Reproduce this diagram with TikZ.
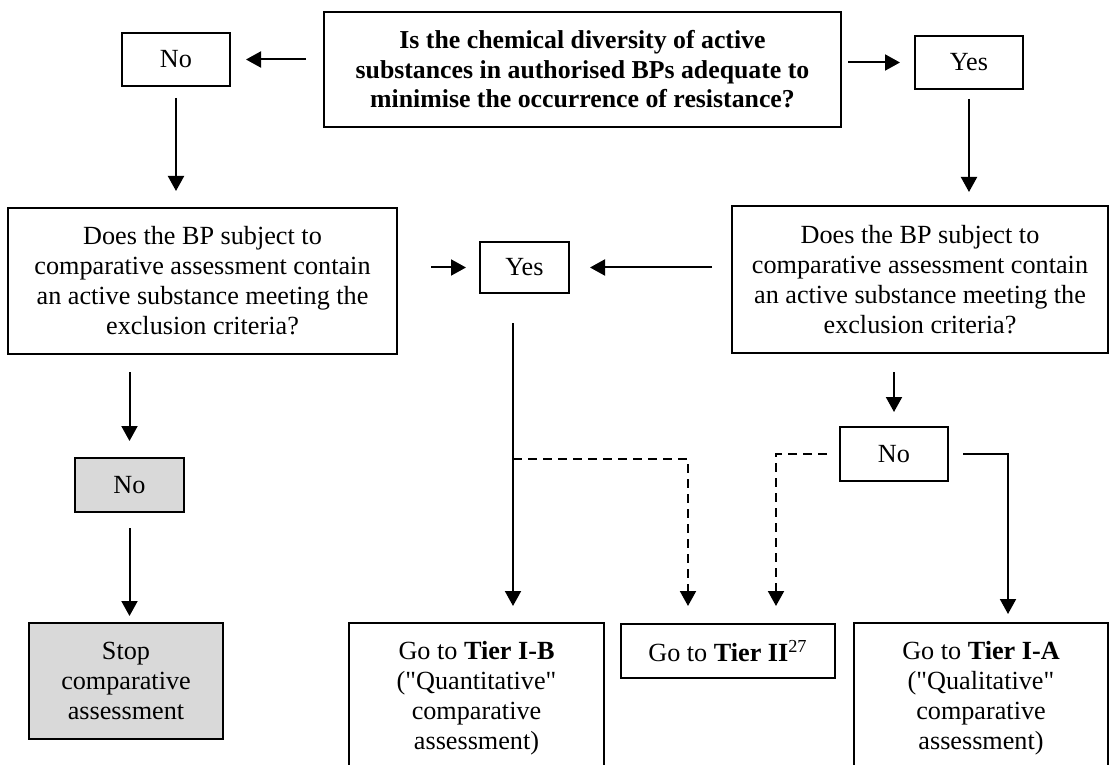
\documentclass[tikz,border=0pt]{standalone}
\usepackage{fontspec}
\setmainfont{Liberation Serif}[Ligatures=TeXOff]
\usetikzlibrary{arrows.meta}
\definecolor{stopgray}{HTML}{D9D9D9}

\begin{document}
\begin{tikzpicture}[x=0.5pt, y=-0.5pt, line width=1pt,
    every node/.style={font=\fontsize{13.1}{15}\selectfont},
    box/.style={draw, align=center, inner sep=0pt},
    greybox/.style={box, fill=stopgray},
    arr/.style={-{Triangle[length=7.5pt, width=8pt]}},
    dasharr/.style={arr, dash pattern=on 4.5pt off 3pt}]

    \clip (0,0) rectangle (1110,765);

    % Draw the top question and its two answers
    \node[box, minimum width=258.5pt, minimum height=57.5pt, font=\fontsize{12.9}{14.8}\selectfont\bfseries]
        (q1) at (582.5,69.5) {Is the chemical diversity of active\\substances in authorised BPs adequate to\\minimise the occurrence of resistance?};
    \node[box, minimum width=54pt, minimum height=26.5pt] (no1) at (176,59.5) {No};
    \node[box, minimum width=54pt, minimum height=26.5pt] (yes1) at (969,62.5) {Yes};

    % Draw the two exclusion questions
    \node[box, minimum width=194.5pt, minimum height=73pt] (q2) at (202.5,281)
        {Does the BP subject to\\comparative assessment contain\\an active substance meeting the\\exclusion criteria?};
    \node[box, minimum width=188pt, minimum height=73.5pt] (q3) at (920,279.5)
        {Does the BP subject to\\comparative assessment contain\\an active substance meeting the\\exclusion criteria?};

    % Draw the answers to the exclusion questions
    \node[box, minimum width=44.5pt, minimum height=25.5pt] (yes2) at (524.5,267.5) {Yes};
    \node[greybox, minimum width=54.5pt, minimum height=27pt] (no2) at (129.5,485) {No};
    \node[box, minimum width=54pt, minimum height=27pt] (no3) at (894,454) {No};

    % Draw the end boxes
    \node[greybox, minimum width=97pt, minimum height=58pt] (stop) at (126,681) {Stop\\comparative\\assessment};
    \node[box, minimum width=127.5pt, minimum height=75pt] (tIB) at (476.5,698)
        {Go to \textbf{Tier I-B}\\("Quantitative"\\comparative\\assessment)};
    \node[box, minimum width=107pt, minimum height=27pt] (tII) at (728,651)
        {Go to \textbf{Tier II}\textsuperscript{27}};
    \node[box, minimum width=127pt, minimum height=75pt] (tIA) at (981,698)
        {Go to \textbf{Tier I-A}\\("Qualitative"\\comparative\\assessment)};

    % Draw the arrows out of the top question
    \draw[arr, shorten <=8.5pt, shorten >=7.5pt] (q1.west |- no1.east) -- (no1.east);
    \draw[arr, shorten <=3pt, shorten >=7pt] (q1.east |- yes1.west) -- (yes1.west);
    \draw[arr, shorten <=5.5pt, shorten >=8pt] (no1.south) -- (no1.south |- q2.north);
    \draw[arr, shorten <=4.5pt, shorten >=6.5pt] (yes1.south) -- (yes1.south |- q3.north);

    % Draw the arrows into the middle Yes
    \draw[arr, shorten <=16.5pt, shorten >=6.5pt] (q2.east |- yes2.west) -- (yes2.west);
    \draw[arr, shorten <=9.5pt, shorten >=10pt] (q3.west |- yes2.east) -- (yes2.east);

    % Draw the left branch
    \draw[arr, shorten <=8.5pt, shorten >=8pt] (no2.north |- q2.south) -- (no2.north);
    \draw[arr, shorten <=7.5pt, shorten >=3pt] (no2.south) -- (no2.south |- stop.north);

    % Draw the middle branch
    \coordinate (split) at (513,459);
    \draw[arr, shorten <=14.5pt, shorten >=8pt] (split |- yes2.south) -- (split |- tIB.north);
    \draw[dasharr, shorten >=8.5pt] (split) -| ([xshift=-20pt]tII.north);

    % Draw the right branch
    \draw[arr, shorten <=9pt, shorten >=7pt] (no3.north |- q3.south) -- (no3.north);
    \draw[dasharr, shorten <=6pt, shorten >=8.5pt] (no3.west) -| ([xshift=24pt]tII.north);
    \draw[arr, shorten <=7pt, shorten >=4pt] (no3.east) -| ([xshift=13.5pt]tIA.north);

\end{tikzpicture}
\end{document}
